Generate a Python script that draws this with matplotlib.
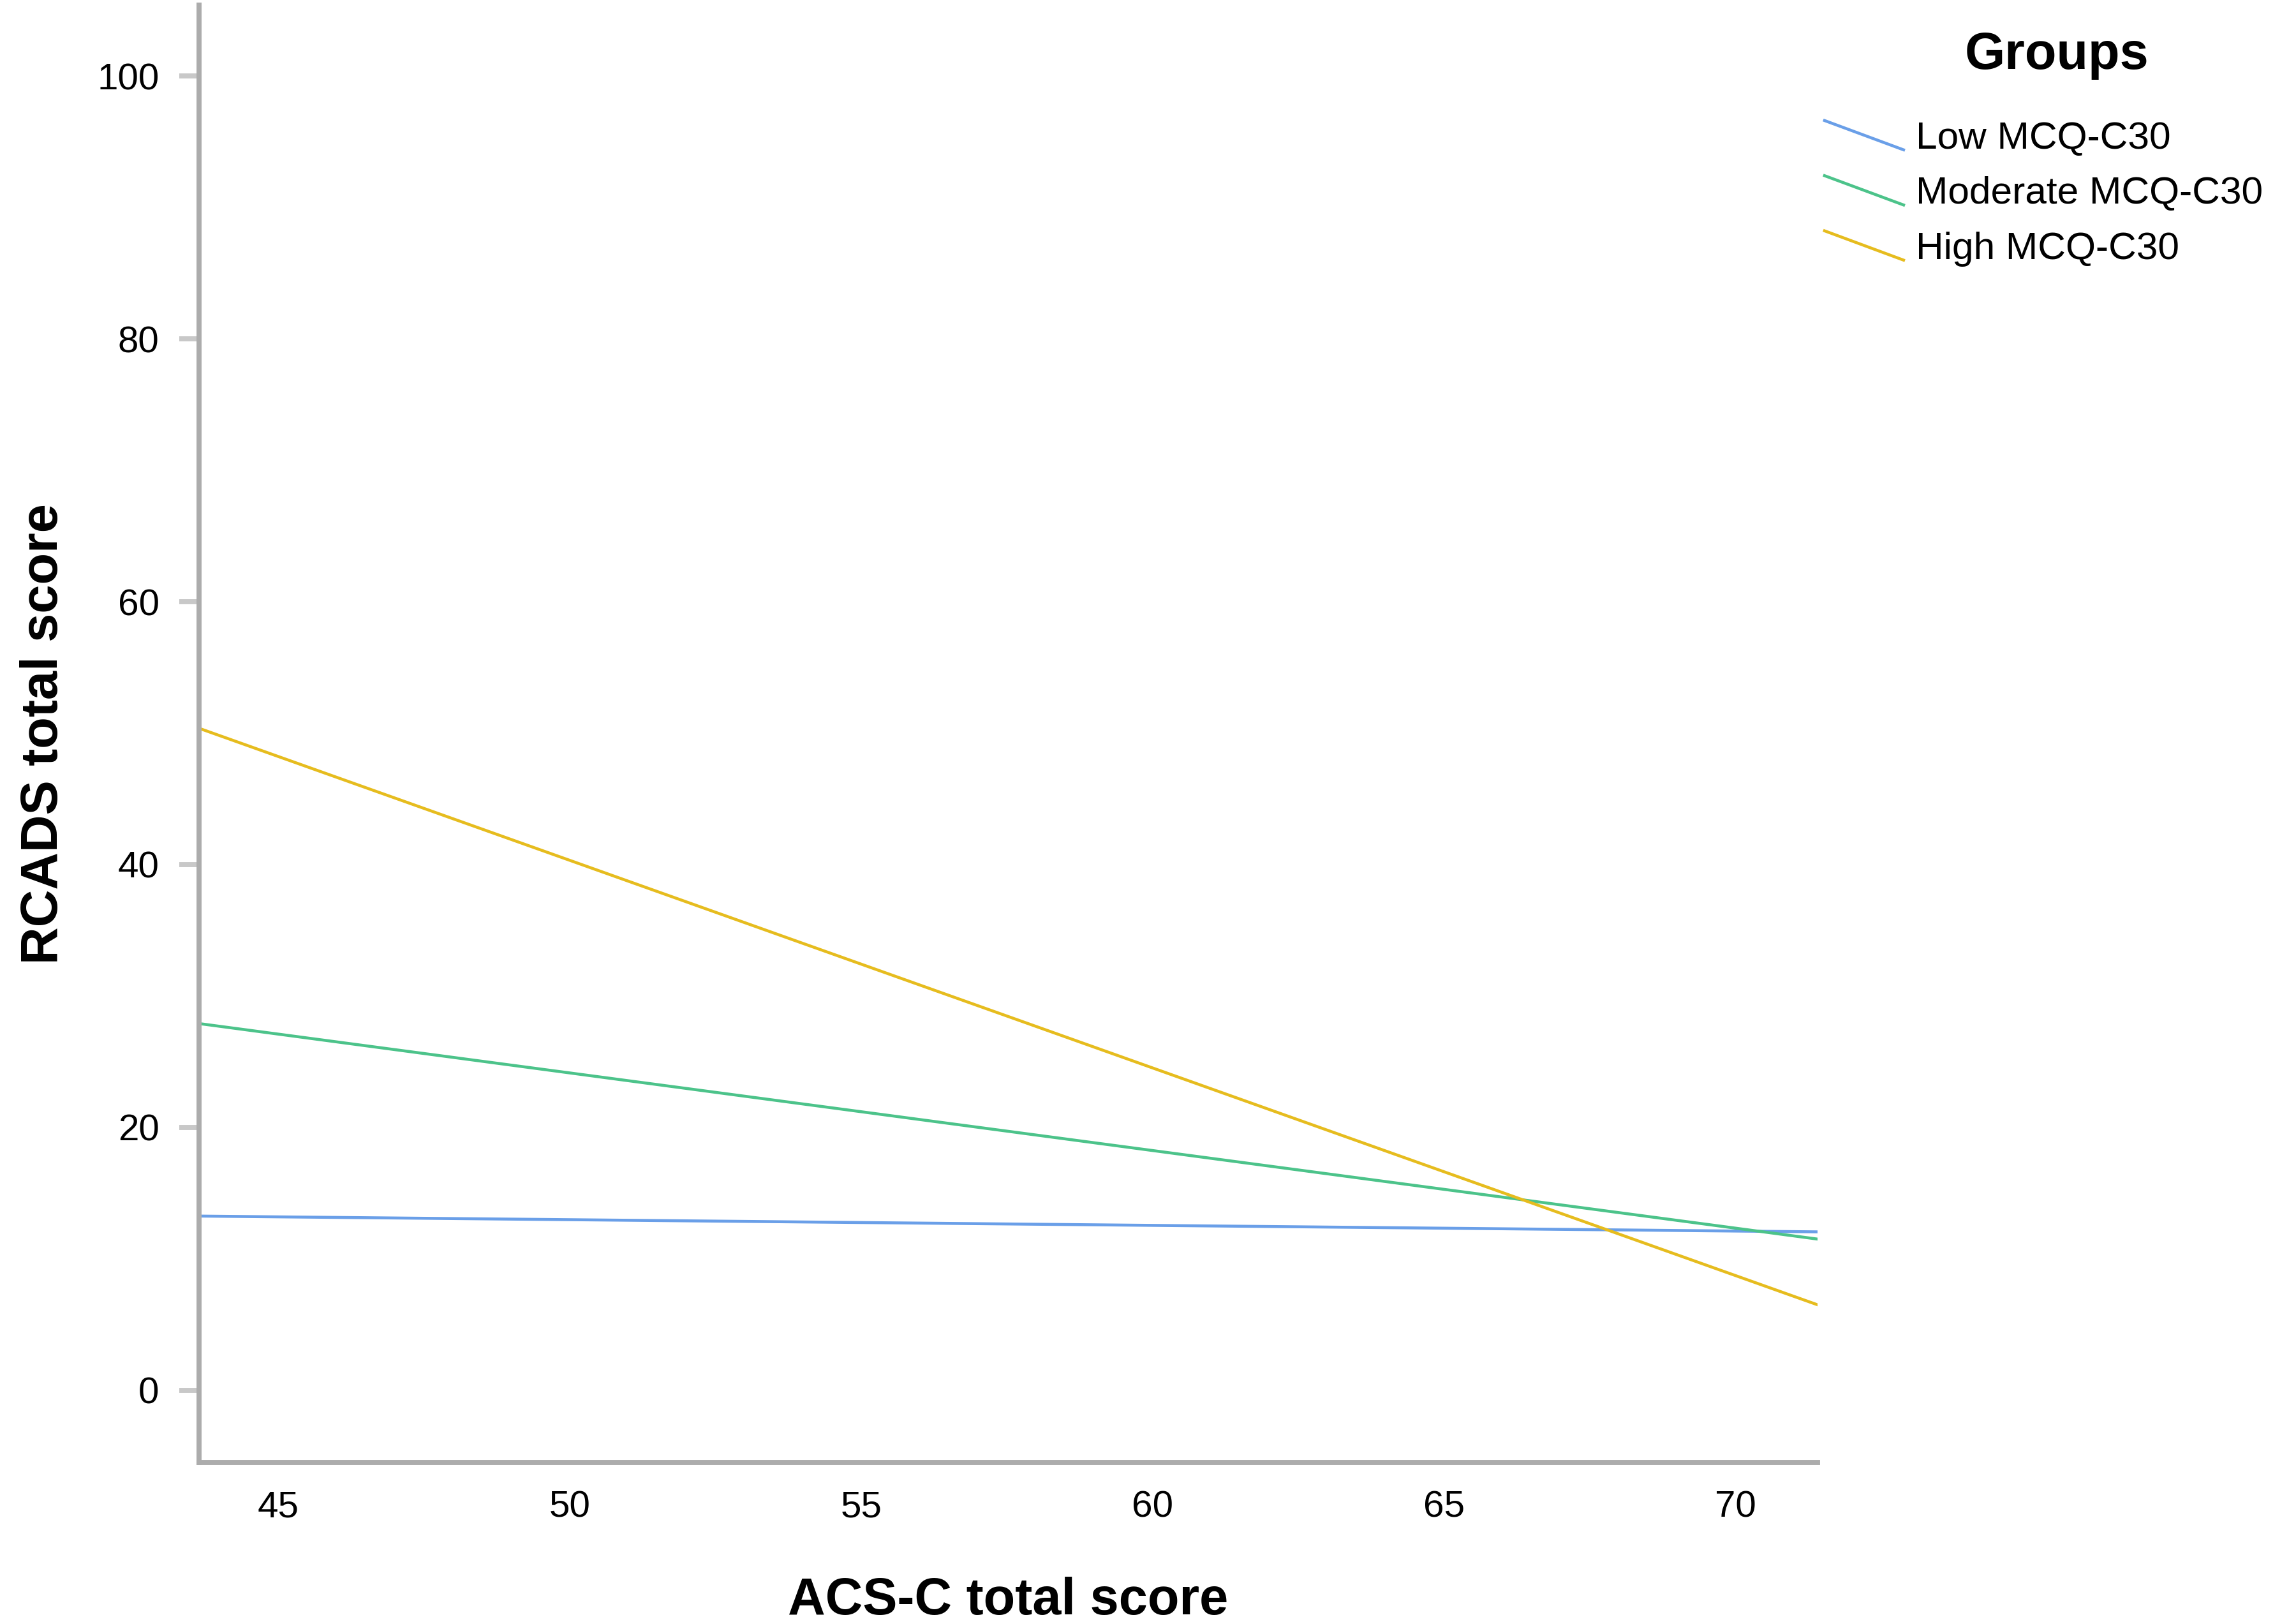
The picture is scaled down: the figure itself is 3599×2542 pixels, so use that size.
import matplotlib
matplotlib.use("Agg")
import matplotlib.pyplot as plt
from matplotlib.lines import Line2D
from matplotlib.legend_handler import HandlerLine2D

plt.rcParams['font.family'] = ['Liberation Sans', 'DejaVu Sans']

# fit line end points (x range = axis range)
x_ends = [43.64, 71.41]
low = [13.25, 12.05]
moderate = [27.9, 11.5]
high = [50.37, 6.5]
group_names = ['Low MCQ-C30', 'Moderate MCQ-C30', 'High MCQ-C30']
colors = ['#6a9fe8', '#4cc38a', '#e6bc1e']

x_ticks = [45, 50, 55, 60, 65, 70]
y_ticks = [0, 20, 40, 60, 80, 100]


class DiagonalHandler(HandlerLine2D):
    # legend swatch drawn as a short falling line, like the SPSS output
    def create_artists(self, legend, orig_handle, xdescent, ydescent,
                       width, height, fontsize, trans):
        x0 = -xdescent
        yc = -ydescent + height / 2
        drop = 0.38 * fontsize
        ln = Line2D([x0, x0 + width], [yc + drop, yc - drop],
                    color=orig_handle.get_color(), lw=orig_handle.get_linewidth())
        ln.set_transform(trans)
        return [ln]


W, H = 3599, 2542
fig = plt.figure(figsize=(W / 300, H / 300), dpi=300)
ax = fig.add_axes([312 / W, (H - 2292) / H, (2849 - 312) / W, (2292 - 8) / H])

handles = []
for vals, name, c in zip([low, moderate, high], group_names, colors):
    h, = ax.plot(x_ends, vals, color=c, lw=1.1, label=name)
    handles.append(h)

ax.set_xlim(x_ends[0], x_ends[1])
ax.set_ylim(-5.5, 105.4)
ax.set_xticks(x_ticks)
ax.set_yticks(y_ticks)

for s in ['top', 'right']:
    ax.spines[s].set_visible(False)
for s in ['left', 'bottom']:
    ax.spines[s].set_color('#acacac')
    ax.spines[s].set_linewidth(1.9)

ax.tick_params(axis='y', length=7.5, width=1.9, color='#c8c8c8', pad=7.5,
               labelsize=14)
ax.tick_params(axis='x', length=0, pad=10.5, labelsize=14)

ax.set_xlabel('ACS-C total score', fontsize=19.5, fontweight='bold', va='center')
ax.xaxis.set_label_coords(0.5, (2292 - 2509) / 2284)
ax.set_ylabel('RCADS total score', fontsize=19.5, fontweight='bold', va='center')
ax.yaxis.set_label_coords((69 - 312) / 2537, 0.5)

fig.text(3224 / W, 1 - 87 / H, 'Groups', fontsize=19.5, fontweight='bold',
         ha='center', va='center')
fig.legend(handles=handles, loc='upper left',
           bbox_to_anchor=(2860 / W, 1 - 190 / H), bbox_transform=fig.transFigure,
           frameon=False, fontsize=14.5, borderpad=0, borderaxespad=0,
           handlelength=2.05, handletextpad=0.32, labelspacing=0.52,
           handler_map={Line2D: DiagonalHandler()})

fig.savefig('out.png', dpi=300)
